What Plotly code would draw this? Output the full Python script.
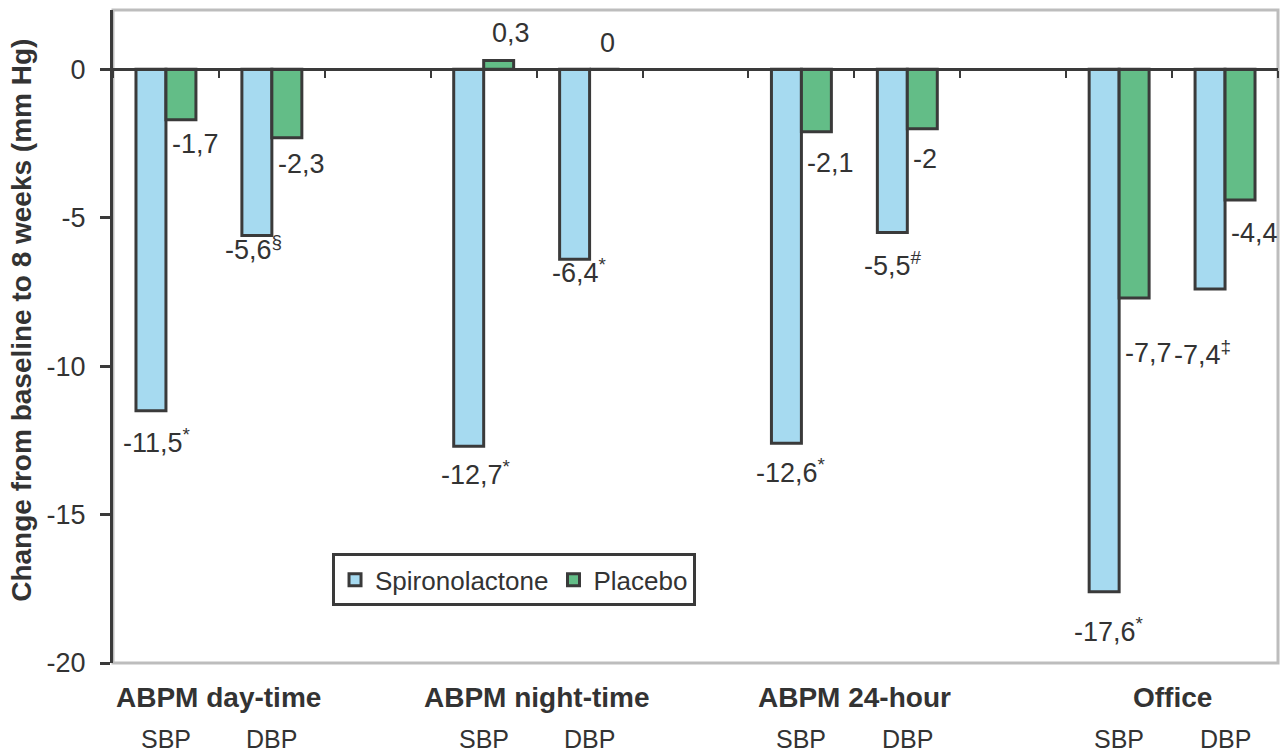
import plotly.graph_objects as go

# ---------------- data ----------------
groups = ["ABPM day-time", "ABPM night-time", "ABPM 24-hour", "Office"]
measures = ["SBP", "DBP"]
spiro = [-11.5, -5.6, -12.7, -6.4, -12.6, -5.5, -17.6, -7.4]
placebo = [-1.7, -2.3, 0.3, 0.0, -2.1, -2.0, -7.7, -4.4]
spiro_marks = ["*", "§", "*", "*", "*", "#", "*", "‡"]
placebo_marks = ["", "", "", "", "", "", "", ""]
y_ticks = [0, -5, -10, -15, -20]

# ---------------- styles ----------------
SPIRO_COL = "#a6daf0"
PLAC_COL = "#63bd87"
EDGE = "#3a3a3a"
TXT = "#333333"
FONT = "Liberation Sans, Arial, sans-serif"
BARGAP = 0.434
LBL = 27
# label pixel offsets (dx, dy) relative to bar end
spiro_off = [(6, -30), (-3, -12), (7, -27), (5, -12), (5, -28), (1, -31), (5, -38), (-8, -64)]
plac_off = [(-11, -24), (-11, -26), (12, 27), (3, 26), (-11, -31), (-11, -30), (-11, -55), (-11, -33)]

# x slot for each bar group: 3 slots per group (SBP, DBP, gap)
xpos = [3 * g + m for g in range(len(groups)) for m in range(len(measures))]
half = (1 - BARGAP) / 4  # half bar width in slot units (2 bars per slot)


def fmt(v):
    if float(v).is_integer():
        return str(int(v))
    return f"{v:.1f}".replace(".", ",")


fig = go.Figure()
fig.add_trace(go.Bar(x=xpos, y=spiro, name="Spironolactone",
                     marker=dict(color=SPIRO_COL, line=dict(color=EDGE, width=3))))
fig.add_trace(go.Bar(x=xpos, y=placebo, name="Placebo",
                     marker=dict(color=PLAC_COL, line=dict(color=EDGE, width=3))))

ann = []
for i, x in enumerate(xpos):
    v = spiro[i]
    t = fmt(v) + (f"<sup>{spiro_marks[i]}</sup>" if spiro_marks[i] else "")
    dx, dy = spiro_off[i]
    ann.append(dict(x=x - half, y=v, xref="x", yref="y", text=t, showarrow=False,
                    xanchor="center", yanchor="middle", xshift=dx, yshift=dy,
                    font=dict(size=LBL, color=TXT, family=FONT)))
    v = placebo[i]
    t = fmt(v) + (f"<sup>{placebo_marks[i]}</sup>" if placebo_marks[i] else "")
    dx, dy = plac_off[i]
    xa = "center" if v >= 0 else "left"
    ann.append(dict(x=x + half, y=v, xref="x", yref="y", text=t, showarrow=False,
                    xanchor=xa, yanchor="middle", xshift=dx, yshift=dy,
                    font=dict(size=LBL, color=TXT, family=FONT)))

# category labels
for g, name in enumerate(groups):
    ann.append(dict(x=3 * g + 0.5, y=-0.053, xref="x", yref="paper", text=f"<b>{name}</b>",
                    showarrow=False, xanchor="center", yanchor="middle",
                    font=dict(size=28, color=TXT, family=FONT)))
    for m, ms in enumerate(measures):
        ann.append(dict(x=3 * g + m, y=-0.116, xref="x", yref="paper", text=ms,
                        showarrow=False, xanchor="center", yanchor="middle",
                        font=dict(size=25, color=TXT, family=FONT)))

# y-axis title
ann.append(dict(x=0, y=0.524, xref="paper", yref="paper", xshift=-91,
                text="<b>Change from baseline to 8 weeks (mm Hg)</b>", textangle=-90,
                showarrow=False, xanchor="center", yanchor="middle",
                font=dict(size=28, color=TXT, family=FONT)))

ymin, ymax = -20, 2
fig.update_layout(
    width=1280, height=754,
    margin=dict(l=113, r=2, t=10, b=91),
    paper_bgcolor="white", plot_bgcolor="white",
    barmode="group", bargap=BARGAP, bargroupgap=0,
    font=dict(family=FONT, color=TXT, size=26),
    annotations=ann,
    showlegend=True,
    legend=dict(orientation="h", x=0.188, y=0.168, xanchor="left", yanchor="top",
                bordercolor=EDGE, borderwidth=3, bgcolor="white",
                font=dict(size=26, color=TXT, family=FONT)),
    xaxis=dict(range=[-0.5, 10.5], anchor="free", position=(0 - ymin) / (ymax - ymin),
               showline=True, linecolor=EDGE, linewidth=3,
               ticks="outside", ticklen=7, tickwidth=2, tickcolor=EDGE,
               tickvals=[k - 0.5 for k in range(12)], showticklabels=False,
               showgrid=False, zeroline=False, fixedrange=True),
    yaxis=dict(range=[ymin, ymax], tickvals=y_ticks, ticktext=[str(t) for t in y_ticks],
               showline=True, linecolor=EDGE, linewidth=3,
               ticks="outside", ticklen=10, tickwidth=3, tickcolor=EDGE,
               ticklabelstandoff=9,
               tickfont=dict(size=27, color=TXT, family=FONT),
               showgrid=False, zeroline=False, fixedrange=True),
    shapes=[dict(type="rect", xref="paper", yref="paper", x0=0, x1=1, y0=0, y1=1,
                 line=dict(color="#bdbdbd", width=3), layer="below")],
)

fig.write_html("out.html")
